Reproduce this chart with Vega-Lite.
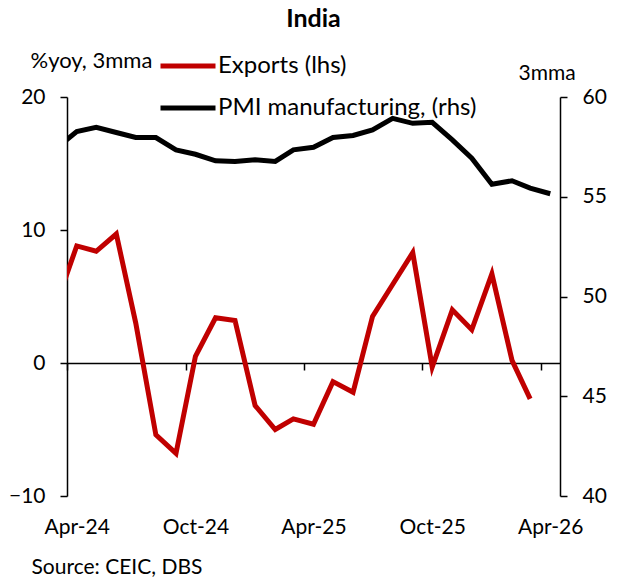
{
  "$schema": "https://vega.github.io/schema/vega-lite/v6.json",
  "width": 493,
  "height": 399,
  "autosize": {"type": "none"},
  "padding": {"left": 67, "top": 97, "right": 62, "bottom": 87},
  "background": "white",
  "config": {"font": "Lato", "view": {"stroke": null}},
  "title": {"text": "India", "fontSize": 25, "fontWeight": "bold", "font": "Lato", "color": "black", "anchor": "middle", "frame": "group", "offset": 4},
  "data": {
    "values": [
      {"date": "2024-03-16", "exports": 4.5, "pmi": 57.45},
      {"date": "2024-04-16", "exports": 8.8, "pmi": 58.27},
      {"date": "2024-05-16", "exports": 8.4, "pmi": 58.48},
      {"date": "2024-06-16", "exports": 9.7, "pmi": 58.22},
      {"date": "2024-07-16", "exports": 3.0, "pmi": 57.97},
      {"date": "2024-08-16", "exports": -5.4, "pmi": 57.97},
      {"date": "2024-09-16", "exports": -6.8, "pmi": 57.35},
      {"date": "2024-10-16", "exports": 0.5, "pmi": 57.13},
      {"date": "2024-11-16", "exports": 3.4, "pmi": 56.8},
      {"date": "2024-12-16", "exports": 3.2, "pmi": 56.77},
      {"date": "2025-01-16", "exports": -3.2, "pmi": 56.85},
      {"date": "2025-02-16", "exports": -5.0, "pmi": 56.77},
      {"date": "2025-03-16", "exports": -4.2, "pmi": 57.35},
      {"date": "2025-04-16", "exports": -4.6, "pmi": 57.48},
      {"date": "2025-05-16", "exports": -1.4, "pmi": 57.97},
      {"date": "2025-06-16", "exports": -2.2, "pmi": 58.07},
      {"date": "2025-07-16", "exports": 3.5, "pmi": 58.35},
      {"date": "2025-08-16", "exports": 5.9, "pmi": 58.93},
      {"date": "2025-09-16", "exports": 8.3, "pmi": 58.68},
      {"date": "2025-10-16", "exports": -0.3, "pmi": 58.73},
      {"date": "2025-11-16", "exports": 4.0, "pmi": 57.85},
      {"date": "2025-12-16", "exports": 2.5, "pmi": 56.93},
      {"date": "2026-01-16", "exports": 6.7, "pmi": 55.63},
      {"date": "2026-02-16", "exports": 0.2, "pmi": 55.8},
      {"date": "2026-03-16", "exports": -2.7, "pmi": 55.43},
      {"date": "2026-04-16", "exports": null, "pmi": 55.15}
    ]
  },
  "layer": [
    {
      "mark": {"type": "line", "strokeWidth": 5, "clip": true},
      "encoding": {
        "x": {
          "field": "date", "type": "temporal",
          "scale": {"type": "utc", "domain": [{"year": 2024, "month": 4, "date": 1, "utc": true}, {"year": 2026, "month": 5, "date": 1, "utc": true}]},
          "axis": {
            "orient": "bottom",
            "values": [
              {"year": 2024, "month": 4, "date": 16, "utc": true},
              {"year": 2024, "month": 10, "date": 16, "utc": true},
              {"year": 2025, "month": 4, "date": 16, "utc": true},
              {"year": 2025, "month": 10, "date": 16, "utc": true},
              {"year": 2026, "month": 4, "date": 16, "utc": true}
            ],
            "format": "%b-%y",
            "domain": false, "ticks": false, "grid": false,
            "labelPadding": 20, "labelFontSize": 21, "labelColor": "black", "labelFont": "Lato",
            "labelFlush": false, "labelOverlap": false,
            "title": "Source: CEIC, DBS",
            "titleX": -36, "titleY": 71, "titleAlign": "left", "titleAnchor": "start", "titleBaseline": "middle",
            "titleFontSize": 21, "titleFontWeight": "normal", "titleColor": "black", "titleFont": "Lato"
          }
        },
        "y": {
          "field": "exports", "type": "quantitative",
          "scale": {"domain": [-10, 20], "nice": false, "zero": false},
          "axis": {
            "orient": "left", "values": [-10, 0, 10, 20], "grid": false,
            "domainColor": "black", "domainWidth": 1.5, "tickColor": "black", "tickWidth": 1.5, "tickSize": 7,
            "labelPadding": 15, "labelFontSize": 21, "labelColor": "black", "labelFont": "Lato",
            "title": "%yoy, 3mma", "titleAngle": 0, "titleX": -37, "titleY": -37,
            "titleAlign": "left", "titleAnchor": "start", "titleBaseline": "middle",
            "titleFontSize": 22, "titleFontWeight": "normal", "titleColor": "black", "titleFont": "Lato"
          }
        },
        "color": {
          "datum": "Exports (lhs)",
          "scale": {"domain": ["Exports (lhs)", "PMI manufacturing, (rhs)"], "range": ["#C00000", "#000000"]},
          "legend": {
            "orient": "none", "legendX": 91, "legendY": -61, "direction": "vertical", "title": null,
            "symbolType": "stroke", "symbolSize": 3025, "symbolStrokeWidth": 5,
            "labelFontSize": 24, "labelFont": "Lato", "labelColor": "black", "labelOffset": 0,
            "rowPadding": -4, "labelLimit": 400
          }
        }
      }
    },
    {
      "mark": {"type": "line", "strokeWidth": 5, "clip": true},
      "encoding": {
        "x": {
          "field": "date", "type": "temporal",
          "axis": {
            "orient": "bottom", "offset": -133,
            "values": [
              {"year": 2024, "month": 4, "date": 1, "utc": true},
              {"year": 2024, "month": 10, "date": 1, "utc": true},
              {"year": 2025, "month": 4, "date": 1, "utc": true},
              {"year": 2025, "month": 10, "date": 1, "utc": true},
              {"year": 2026, "month": 4, "date": 1, "utc": true}
            ],
            "labels": false, "grid": false, "title": null,
            "domainColor": "black", "domainWidth": 1.5, "tickColor": "black", "tickWidth": 1.5, "tickSize": 7
          }
        },
        "y": {
          "field": "pmi", "type": "quantitative",
          "scale": {"domain": [40, 60], "nice": false, "zero": false},
          "axis": {
            "orient": "right", "values": [40, 45, 50, 55, 60], "grid": false,
            "domainColor": "black", "domainWidth": 1.5, "tickColor": "black", "tickWidth": 1.5, "tickSize": 7,
            "labelPadding": 15, "labelFontSize": 21, "labelColor": "black", "labelFont": "Lato",
            "title": "3mma", "titleAngle": 0, "titleX": -42, "titleY": -24,
            "titleAlign": "left", "titleAnchor": "start", "titleBaseline": "middle",
            "titleFontSize": 21, "titleFontWeight": "normal", "titleColor": "black", "titleFont": "Lato"
          }
        },
        "color": {"datum": "PMI manufacturing, (rhs)"}
      }
    }
  ],
  "resolve": {"scale": {"y": "independent"}, "axis": {"x": "independent", "y": "independent"}}
}
